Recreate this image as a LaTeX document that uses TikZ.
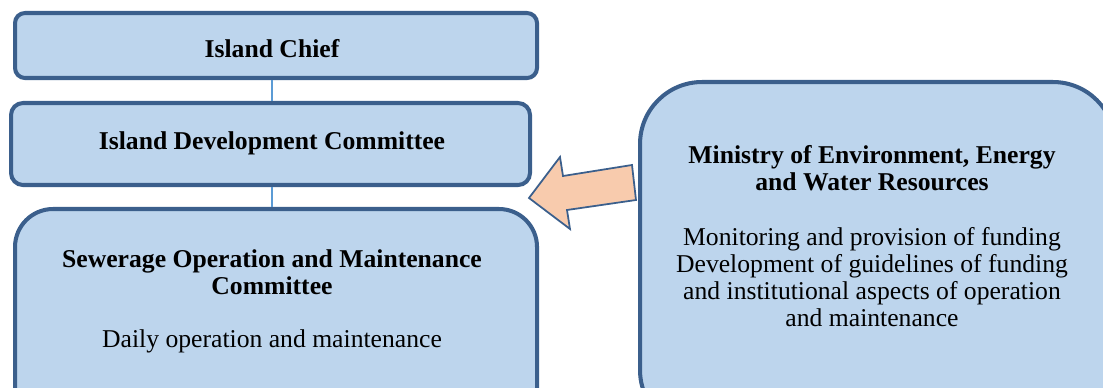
\documentclass[tikz,border=0pt]{standalone}
\usepackage{fontspec}
\setmainfont{Liberation Serif}
\definecolor{boxfill}{HTML}{BDD5ED}
\definecolor{boxline}{HTML}{3B5F8C}
\definecolor{conn}{HTML}{5B9BD5}
\definecolor{arrfill}{HTML}{F8CBAD}
\tikzset{
  orgbox/.style={draw=boxline, fill=boxfill, line width=2.3pt},
  txt/.style={align=center, inner sep=0pt, font=\fontsize{14.6}{15.4}\selectfont},
  ttl/.style={txt, font=\fontsize{14.6}{15.4}\selectfont\bfseries},
  connline/.style={draw=conn, line width=0.6pt}
}
\begin{document}
\begin{tikzpicture}[x=0.02cm, y=-0.02cm]
\useasboundingbox (0,0) rectangle (1103,388);
\clip (0,0) rectangle (1103,388);
% boxes
\node[orgbox, rounded corners=10*0.02cm, minimum width=522*0.02cm, minimum height=65*0.02cm, anchor=north west] (chief) at (13,11) {};
\node[orgbox, rounded corners=12*0.02cm, minimum width=519*0.02cm, minimum height=82*0.02cm, anchor=north west] (idc) at (9,101) {};
\node[orgbox, rounded corners=38*0.02cm, minimum width=522*0.02cm, minimum height=230*0.02cm, anchor=north west] (somc) at (13,207) {};
\node[orgbox, rounded corners=62*0.02cm, minimum width=475*0.02cm, minimum height=350*0.02cm, anchor=north west] (min) at (638,80) {};
% connectors
\draw[connline] (chief.south -| 272,0) -- (idc.north -| 272,0);
\draw[connline] (idc.south -| 272,0) -- (somc.north -| 272,0);
% block arrow
\draw[fill=arrfill, draw=boxline, line width=1pt, line join=miter]
  (529,198) -- (560,157) -- (563,176) -- (632,165) -- (636,200) -- (567,210) -- (570,229) -- cycle;
% texts
\node[ttl] (t1) at (272,49) {Island Chief};
\node[ttl] (t2) at (272,143) {Island Development Committee};
\node[ttl] (t3) at (272,272) {Sewerage Operation and Maintenance\\Committee};
\node[txt] (t4) at (272,341) {Daily operation and maintenance};
\node[ttl] (t5) at (872,168) {Ministry of Environment, Energy\\and Water Resources};
\node[txt] (t6) at (872,277) {Monitoring and provision of funding\\Development of guidelines of funding\\and institutional aspects of operation\\and maintenance};
\end{tikzpicture}
\end{document}
